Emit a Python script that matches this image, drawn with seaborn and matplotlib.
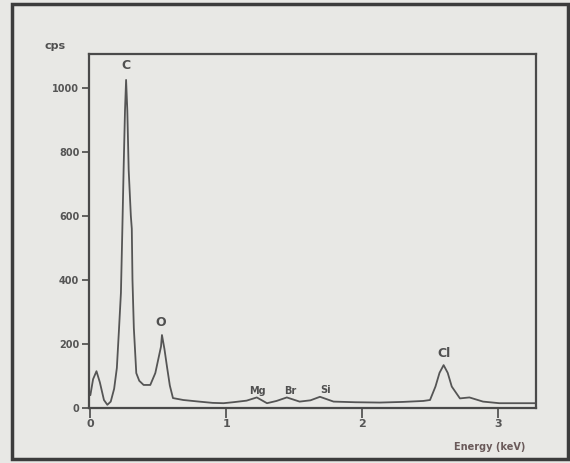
import matplotlib
matplotlib.use("Agg")
import matplotlib.pyplot as plt
from matplotlib.patches import Rectangle
import pandas as pd
import seaborn as sns

# EDS spectrum: energy (keV) and count rate (cps)
energy_kev = [0.00, 0.02, 0.045, 0.07, 0.10, 0.125, 0.15, 0.175, 0.195, 0.21,
              0.225, 0.235, 0.245, 0.255, 0.263, 0.272, 0.282, 0.298, 0.305, 0.31,
              0.32, 0.338, 0.36, 0.392, 0.441, 0.478, 0.52, 0.527, 0.545, 0.564,
              0.585, 0.608, 0.684, 0.80, 0.90, 0.98, 1.05, 1.15, 1.225, 1.30,
              1.37, 1.446, 1.54, 1.62, 1.69, 1.79, 1.95, 2.13, 2.30, 2.45,
              2.50, 2.54, 2.57, 2.60, 2.63, 2.66, 2.72, 2.79, 2.89, 3.01,
              3.15, 3.28]
counts_cps = [40, 90, 115, 80, 25, 10, 20, 60, 125, 240,
              360, 550, 750, 930, 1025, 930, 744, 600, 560, 400,
              250, 109, 85, 72, 72, 109, 192, 228, 185, 129,
              70, 31, 25, 20, 16, 15, 18, 23, 33, 15,
              22, 33, 20, 24, 35, 20, 18, 17, 19, 22,
              25, 67, 110, 134, 110, 67, 30, 33, 20, 15,
              15, 15]

# Element labels placed above their peaks
peak_names = ["C", "O", "Mg", "Br", "Si", "Cl"]
peak_energy = [0.265, 0.52, 1.23, 1.47, 1.73, 2.60]
peak_label_cps = [1069, 266, 53, 54, 56, 169]

x_ticks = [0, 1, 2, 3]
y_ticks = [0, 200, 400, 600, 800, 1000]

bg = "#e8e8e5"
ink = "#4a4a4a"

sns.set_theme(style="white")
plt.rcParams["font.family"] = ["DejaVu Sans"]

fig = plt.figure(figsize=(5.7, 4.63), dpi=100, facecolor=bg)
ax = fig.add_axes([89 / 570, 1 - 408 / 463, (536 - 89) / 570, (408 - 54) / 463])
ax.set_facecolor(bg)

df = pd.DataFrame({"energy": energy_kev, "cps": counts_cps})
sns.lineplot(data=df, x="energy", y="cps", ax=ax, color="#555555", linewidth=1.3)

ax.set_xlim(-0.01, 3.28)
ax.set_ylim(0, 1106)
ax.set_xticks(x_ticks)
ax.set_xticklabels([str(v) for v in x_ticks])
ax.set_yticks(y_ticks)
ax.set_yticklabels([str(v) for v in y_ticks])
ax.set_xlabel("")
ax.set_ylabel("")

for s in ax.spines.values():
    s.set_color(ink)
    s.set_linewidth(1.6)

ax.tick_params(axis="y", direction="out", length=5, width=1.2, color=ink,
               labelsize=7, labelcolor="#555555", pad=2, left=True)
ax.tick_params(axis="x", direction="out", length=7, width=1.2, color=ink,
               labelsize=8, labelcolor="#555555", pad=1, bottom=True)
for lab in ax.get_xticklabels() + ax.get_yticklabels():
    lab.set_fontweight("bold")

for name, e, c in zip(peak_names, peak_energy, peak_label_cps):
    big = name in ("C", "O", "Cl")
    ax.text(e, c, name, ha="center", va="center",
            fontsize=9 if big else 7, fontweight="bold", color="#505050")

fig.text(55 / 570, 1 - 46 / 463, "cps", ha="center", va="center",
         fontsize=8, fontweight="bold", color="#505050")
fig.text(490 / 570, 1 - 447 / 463, "Energy (keV)", ha="center", va="center",
         fontsize=7, fontweight="bold", color="#6a5a5a")

# Outer panel border
fig.patches.append(Rectangle((12 / 570, 4 / 463), (568 - 12) / 570, (459 - 4) / 463,
                             transform=fig.transFigure, fill=False,
                             edgecolor="#3c3c3c", linewidth=2.5))

fig.savefig("out.png", dpi=100, facecolor=bg)
